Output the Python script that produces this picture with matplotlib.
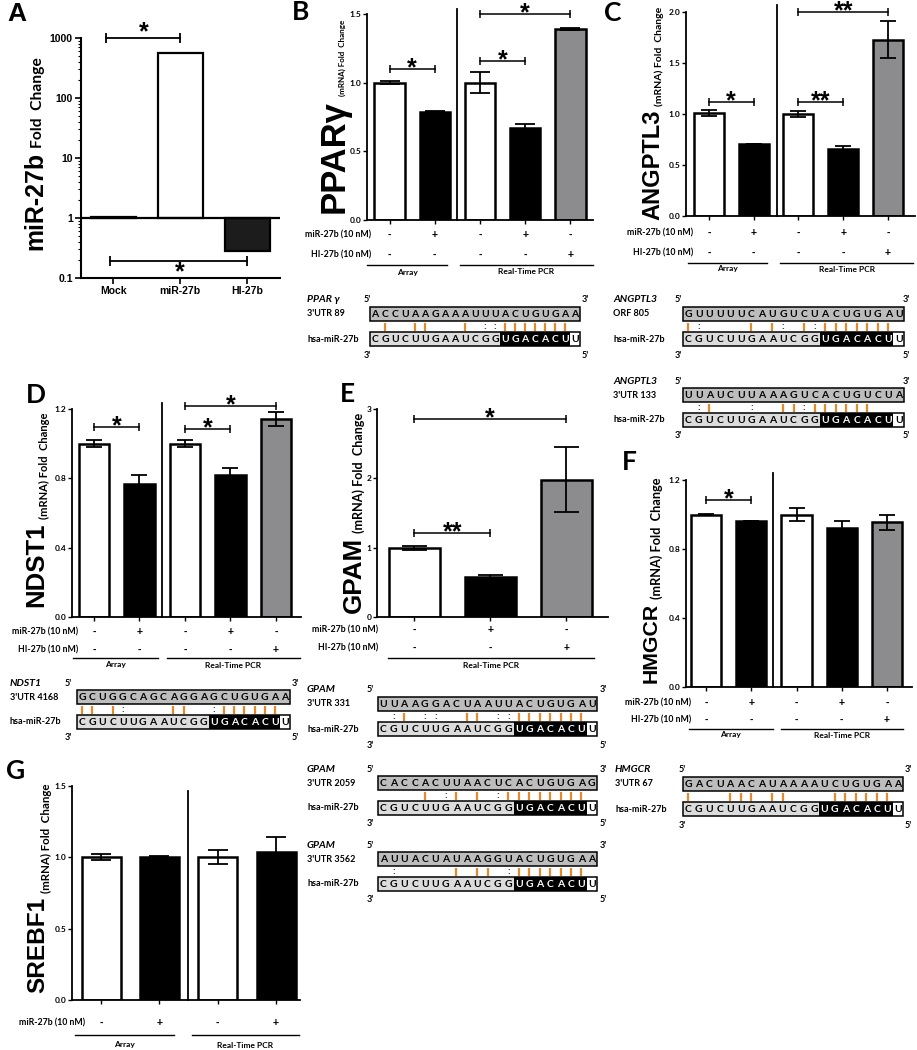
import matplotlib
matplotlib.use('Agg')
import matplotlib.pyplot as plt
from matplotlib.patches import Rectangle
from matplotlib.transforms import blended_transform_factory
import numpy as np

W, H = 917, 1050
fig = plt.figure(figsize=(W / 100, H / 100), dpi=100)
BIG = 'Liberation Sans'
SMALL = 'Lato'
WHITE, BLACK, GRAY = '#ffffff', '#000000', '#8c8c8e'
ORANGE = '#e58a2c'

# ---------------- data ----------------
a_groups = ['Mock', 'miR-27b', 'HI-27b']
a_values = [1.05, 560.0, 0.28]

b_values = [1.00, 0.79, 1.00, 0.67, 1.39]
b_errors = [0.01, 0.005, 0.075, 0.03, 0.005]
c_values = [1.01, 0.71, 1.00, 0.66, 1.73]
c_errors = [0.03, 0.0, 0.03, 0.025, 0.18]
d_values = [1.00, 0.77, 1.00, 0.82, 1.14]
d_errors = [0.02, 0.05, 0.02, 0.04, 0.04]
e_values = [1.00, 0.57, 1.98]
e_errors = [0.03, 0.03, 0.47]
f_values = [1.00, 0.96, 1.00, 0.92, 0.955]
f_errors = [0.005, 0.0, 0.035, 0.04, 0.045]
g_values = [1.00, 1.005, 1.00, 1.04]
g_errors = [0.02, 0.005, 0.05, 0.105]

mir_signs5 = ['-', '+', '-', '+', '-']
hi_signs5 = ['-', '-', '-', '-', '+']
mir_signs3 = ['-', '+', '-']
hi_signs3 = ['-', '-', '+']
mir_signs4 = ['-', '+', '-', '+']

mirna = 'CGUCUUGAAUCGGUGACACUU'
seq_pparg = 'ACCUAAGAAAUUUACUGUGAA'
pair_pparg = ' |  ||   | ::||||||| '
seq_ang_orf = 'GUUUUUCAUGUCUACUGUGAU'
pair_ang_orf = '|:    | |: |:||||||| '
seq_ang_utr = 'UUAUCUUAAAGUCACUGUCUA'
pair_ang_utr = ' :|   :  ||:||||||   '
seq_ndst1 = 'GCUGGCAGCAGGAGCUGUGAA'
pair_ndst1 = '|| |:    ||  :|||||| '
seq_gpam1 = 'UUAAGGACUAAUUACUGUGAU'
pair_gpam1 = ' :| ::  || ::||||||| '
seq_gpam2 = 'CACCACUUAACUCACUGUGAG'
pair_gpam2 = '    | :| | :|||||||| '
seq_gpam3 = 'AUUACUAUAAGGUACUGUGAA'
pair_gpam3 = ' :     | || :||||||| '
seq_hmgcr = 'GACUAACAUAAAAUCUGUGAA'
pair_hmgcr = '|   ||| ||    |||||| '

# ---------------- helpers ----------------
ov = fig.add_axes([0, 0, 1, 1], zorder=10)
ov.set_xlim(0, W)
ov.set_ylim(H, 0)
ov.axis('off')
renderer = fig.canvas.get_renderer()


def add_ax(x0, ytop, x1, ybot):
    ax = fig.add_axes([x0 / W, 1 - ybot / H, (x1 - x0) / W, (ybot - ytop) / H])
    ax.patch.set_alpha(0)
    ax._px = (x0, ytop, x1, ybot)
    return ax


def fit_vtext(x, y_from, y_to, s, family, weight='bold'):
    t = ov.text(x, y_from, s, fontsize=10, rotation=90, rotation_mode='anchor',
                ha='left', va='baseline', family=family, fontweight=weight)
    bb = t.get_window_extent(renderer)
    t.set_fontsize(10 * abs(y_from - y_to) / bb.height)
    return t


def ylabel2(x, big, small, b0, b1, s1, gap=4, xs=None):
    fit_vtext(x, b0, b1, big, BIG)
    fit_vtext(x if xs is None else xs, b1 - gap, s1, small, SMALL)


def setup(ax, n, xlim, ylim, yticks, ylabels):
    ax.set_xlim(*xlim)
    ax.set_ylim(*ylim)
    for s in ['top', 'right']:
        ax.spines[s].set_visible(False)
    for s in ['left', 'bottom']:
        ax.spines[s].set_linewidth(1.3)
    ax.set_xticks(range(n))
    ax.set_xticklabels([])
    ax.set_yticks(yticks)
    ax.set_yticklabels(ylabels)
    ax.tick_params(axis='both', direction='out', length=3, width=1)
    ax.tick_params(axis='y', labelsize=6, pad=1)
    for lab in ax.get_yticklabels():
        lab.set_fontweight('bold')
        lab.set_family(SMALL)


def bars(ax, values, errors, colors, capsize=5):
    x = np.arange(len(values))
    ax.bar(x, values, width=0.67, color=colors, edgecolor='k', linewidth=1.8, zorder=2)
    ax.errorbar(x, values, yerr=errors, fmt='none', ecolor='k', elinewidth=1.3,
                capsize=capsize, capthick=1.3, zorder=3)


def bracket(ax, x1, x2, y, label, size=18):
    ax.plot([x1, x2], [y, y], color='k', lw=1.1, marker='|', markersize=6,
            markeredgewidth=1.1, clip_on=False, zorder=4)
    ax.annotate(label, (0.5 * (x1 + x2), y), xytext=(0, -4.5), textcoords='offset points',
                ha='center', va='baseline', fontsize=size, fontweight='bold', family=BIG,
                annotation_clip=False)


def divider(ax, x, top):
    ax.plot([x, x], [ax.get_ylim()[0], top], color='k', lw=1.3, clip_on=False, zorder=4)


def rows(ax, labels, signs, dys, label_off, groups, line_dy, glabel_dy):
    x0, ytop, x1, ybot = ax._px
    hpx = ybot - ytop
    xl = ax.get_xlim()
    ppu = (x1 - x0) / (xl[1] - xl[0])
    tr = blended_transform_factory(ax.transData, ax.transAxes)
    for lab, sg, dy in zip(labels, signs, dys):
        yf = -dy / hpx
        ax.text(-label_off / ppu, yf, lab, transform=tr, ha='right', va='center',
                fontsize=6.3, fontweight='bold', family=SMALL, clip_on=False)
        for i, s in enumerate(sg):
            ax.text(i, yf, s, transform=tr, ha='center', va='center', fontsize=7.5,
                    fontweight='bold', family=BIG, clip_on=False)
    for name, ga, gb in groups:
        yf = -line_dy / hpx
        ax.plot([ga, gb], [yf, yf], transform=tr, color='k', lw=1.0, clip_on=False)
        ax.text(0.5 * (ga + gb), -glabel_dy / hpx, name, transform=tr, ha='center',
                va='center', fontsize=6, fontweight='bold', family=SMALL, clip_on=False)


def seq_block(gene, site, target, pairs, xl, xp, bx0, bx1, xrp, y0):
    n = len(target)
    cw = (bx1 - bx0) / n
    kw = dict(fontweight='bold', family=SMALL, va='center')
    ov.text(xl, y0, gene, fontsize=7.5, style='italic', ha='left', **kw)
    ov.text(xl, y0 + 14, site, fontsize=6.5, ha='left', **kw)
    ov.text(xl, y0 + 39, 'hsa-miR-27b', fontsize=6.5, ha='left', **kw)
    ov.text(xp, y0, "5'", fontsize=6.5, ha='center', **kw)
    ov.text(xrp, y0, "3'", fontsize=6.5, ha='center', **kw)
    ov.text(xp, y0 + 55, "3'", fontsize=6.5, ha='center', **kw)
    ov.text(xrp, y0 + 55, "5'", fontsize=6.5, ha='center', **kw)
    ty0, ty1 = y0 + 7, y0 + 21
    ov.add_patch(Rectangle((bx0, ty0), bx1 - bx0, ty1 - ty0, fc='#bdbdbd', ec='k', lw=1.1))
    for i, ch in enumerate(target):
        ov.text(bx0 + (i + 0.5) * cw, (ty0 + ty1) / 2 + 0.5, ch, fontsize=7.5, ha='center',
                color='k', **kw)
    yp = y0 + 26.5
    for i, p in enumerate(pairs):
        xc = bx0 + (i + 0.5) * cw
        if p == '|':
            ov.plot([xc, xc], [yp - 4, yp + 4], color=ORANGE, lw=1.6, solid_capstyle='butt')
        elif p == ':':
            ov.text(xc, yp, ':', fontsize=7.5, ha='center', color='#222222', **kw)
    my0, my1 = y0 + 32, y0 + 46
    ov.add_patch(Rectangle((bx0, my0), bx1 - bx0, my1 - my0, fc='#dcdcdc', ec='none'))
    ov.add_patch(Rectangle((bx0 + 13 * cw, my0), 7 * cw, my1 - my0, fc='k', ec='none'))
    ov.add_patch(Rectangle((bx0 + 20 * cw, my0), cw, my1 - my0, fc='white', ec='none'))
    ov.add_patch(Rectangle((bx0, my0), bx1 - bx0, my1 - my0, fc='none', ec='k', lw=1.1))
    for i, ch in enumerate(mirna):
        col = 'white' if 13 <= i <= 19 else 'k'
        ov.text(bx0 + (i + 0.5) * cw, (my0 + my1) / 2 + 0.5, ch, fontsize=7.5, ha='center',
                color=col, **kw)


def panel_letter(x, y, s, family=SMALL):
    ov.text(x, y, s, fontsize=19, fontweight='bold', family=family, ha='center', va='center')


# ---------------- Panel A ----------------
axA = add_ax(81, 38, 280, 278)
axA.set_yscale('log')
axA.set_ylim(0.1, 1000)
axA.set_xlim(-0.48, 2.49)
xA = np.arange(len(a_values))
axA.bar(xA, [v - 1 for v in a_values], bottom=1, width=0.67,
        color=[WHITE, WHITE, '#1c1c1c'], edgecolor='k', linewidth=1.6, zorder=2)
axA.axhline(1, color='k', lw=1.6, zorder=3)
for s in ['top', 'right']:
    axA.spines[s].set_visible(False)
for s in ['left', 'bottom']:
    axA.spines[s].set_linewidth(1.5)
axA.set_yticks([0.1, 1, 10, 100, 1000])
axA.set_yticklabels(['0.1', '1', '10', '100', '1000'])
axA.set_xticks(xA)
axA.set_xticklabels(a_groups)
axA.tick_params(axis='both', which='major', direction='out', length=4, width=1.2, labelsize=7.5, pad=2)
axA.tick_params(axis='y', which='minor', direction='out', length=2, width=0.8)
for lab in axA.get_yticklabels() + axA.get_xticklabels():
    lab.set_fontweight('bold')
    lab.set_family(BIG)
axA.plot([-0.1, 1.0], [1000, 1000], color='k', lw=1.3, marker='|', markersize=7,
         markeredgewidth=1.3, clip_on=False)
axA.annotate('*', (0.45, 1000), xytext=(0, -1), textcoords='offset points', ha='center',
             va='baseline', fontsize=18, fontweight='bold', family=BIG, annotation_clip=False)
axA.plot([-0.05, 2.0], [0.19, 0.19], color='k', lw=1.3, marker='|', markersize=7,
         markeredgewidth=1.3, clip_on=False)
axA.annotate('*', (1.0, 0.19), xytext=(0, -13), textcoords='offset points', ha='center',
             va='baseline', fontsize=18, fontweight='bold', family=BIG, annotation_clip=False)
ylabel2(42, 'miR-27b', 'Fold  Change', 250, 152, 57)
panel_letter(17, 14, 'A', BIG)

# ---------------- Panel B ----------------
axB = add_ax(367, 14, 593, 220)
setup(axB, 5, (-0.5, 4.5), (0, 1.5), [0, 0.5, 1.0, 1.5], ['0.0', '0.5', '1.0', '1.5'])
bars(axB, b_values, b_errors, [WHITE, BLACK, WHITE, BLACK, GRAY], capsize=7)
divider(axB, 1.5, 1.54)
bracket(axB, 0, 1, 1.10, '*')
bracket(axB, 2, 3, 1.16, '*')
bracket(axB, 2, 4, 1.50, '*')
rows(axB, ['miR-27b (10 nM)', 'HI-27b (10 nM)'], [mir_signs5, hi_signs5], [15, 35], 18,
     [('Array', -0.5, 1.27), ('Real-Time PCR', 1.56, 4.49)], 45, 52)
ylabel2(344, 'PPARγ', '(mRNA) Fold  Change', 213, 100, 20, xs=345)
panel_letter(301, 12, 'B')

# ---------------- Panel C ----------------
axC = add_ax(686, 12, 915, 216)
setup(axC, 5, (-0.51, 4.6), (0, 2.0), [0, 0.5, 1.0, 1.5, 2.0], ['0.0', '0.5', '1.0', '1.5', '2.0'])
bars(axC, c_values, c_errors, [WHITE, BLACK, WHITE, BLACK, GRAY], capsize=6)
divider(axC, 1.52, 2.07)
bracket(axC, 0, 1, 1.115, '*')
bracket(axC, 2, 3, 1.115, '**')
bracket(axC, 2, 4, 2.0, '**')
rows(axC, ['miR-27b (10 nM)', 'HI-27b (10 nM)'], [mir_signs5, hi_signs5], [17, 37], 16,
     [('Array', -0.47, 1.3), ('Real-Time PCR', 1.59, 4.56)], 47, 53)
ylabel2(659, 'ANGPTL3', '(mRNA) Fold  Change', 220, 110, 7, xs=662)
panel_letter(613, 13, 'C')

# ---------------- Panel D ----------------
axD = add_ax(72, 409, 301, 617)
setup(axD, 5, (-0.48, 4.55), (0, 1.2), [0, 0.4, 0.8, 1.2], ['0.0', '0.4', '0.8', '1.2'])
bars(axD, d_values, d_errors, [WHITE, BLACK, WHITE, BLACK, GRAY], capsize=6)
divider(axD, 1.49, 1.235)
bracket(axD, 0, 1, 1.096, '*')
bracket(axD, 2, 3, 1.085, '*')
bracket(axD, 2, 4, 1.217, '*')
rows(axD, ['miR-27b (10 nM)', 'HI-27b (10 nM)'], [mir_signs5, hi_signs5], [15, 33], 16,
     [('Array', -0.46, 1.41), ('Real-Time PCR', 1.6, 4.53)], 41, 48)
ylabel2(43, 'NDST1', '(mRNA) Fold  Change', 607, 523, 413, xs=48)
panel_letter(36, 395, 'D')

# ---------------- Panel E ----------------
axE = add_ax(377, 409, 608, 617)
setup(axE, 3, (-0.49, 2.55), (0, 3), [0, 1, 2, 3], ['0', '1', '2', '3'])
bars(axE, e_values, e_errors, [WHITE, BLACK, GRAY], capsize=9)
bracket(axE, 0, 1, 1.21, '**')
bracket(axE, 0, 2, 2.86, '*')
rows(axE, ['miR-27b (10 nM)', 'HI-27b (10 nM)'], [mir_signs3, hi_signs3], [13, 31], 36,
     [('Real-Time PCR', -0.34, 2.36)], 41, 48)
ylabel2(361, 'GPAM', '(mRNA) Fold  Change', 613, 537, 413, xs=363)
panel_letter(347, 394, 'E')

# ---------------- Panel F ----------------
axF = add_ax(686, 480, 912, 687)
setup(axF, 5, (-0.44, 4.55), (0, 1.2), [0, 0.4, 0.8, 1.2], ['0.0', '0.4', '0.8', '1.2'])
bars(axF, f_values, f_errors, [WHITE, BLACK, WHITE, BLACK, GRAY], capsize=6)
divider(axF, 1.48, 1.24)
bracket(axF, 0, 1, 1.084, '*')
rows(axF, ['miR-27b (10 nM)', 'HI-27b (10 nM)'], [mir_signs5, hi_signs5], [16, 33], 15,
     [('Array', -0.38, 1.48), ('Real-Time PCR', 1.66, 4.35)], 42, 48)
ylabel2(657, 'HMGCR', '(mRNA) Fold  Change', 683, 603, 477, xs=661)
panel_letter(629, 462, 'F')

# ---------------- Panel G ----------------
axG = add_ax(72, 786, 300, 1000)
setup(axG, 4, (-0.5, 3.41), (0, 1.5), [0, 0.5, 1.0, 1.5], ['0.0', '0.5', '1.0', '1.5'])
bars(axG, g_values, g_errors, [WHITE, BLACK, WHITE, BLACK], capsize=7)
divider(axG, 1.49, 1.465)
rows(axG, ['miR-27b (10 nM)'], [mir_signs4], [23], 16,
     [('Array', -0.45, 1.25), ('Real-Time PCR', 1.55, 3.4)], 35, 45)
ylabel2(44, 'SREBF1', '(mRNA) Fold  Change', 993, 897, 783, xs=50)
panel_letter(16, 771, 'G')

# ---------------- sequence alignments ----------------
seq_block('PPAR γ', "3'UTR 89", seq_pparg, pair_pparg, 307, 367, 370, 580, 585, 300)
seq_block('ANGPTL3', 'ORF 805', seq_ang_orf, pair_ang_orf, 613, 678, 683, 904, 906, 300)
seq_block('ANGPTL3', "3'UTR 133", seq_ang_utr, pair_ang_utr, 613, 678, 683, 904, 906, 381)
seq_block('NDST1', "3'UTR 4168", seq_ndst1, pair_ndst1, 10, 68, 77, 290, 295, 683)
seq_block('GPAM', "3'UTR 331", seq_gpam1, pair_gpam1, 307, 370, 378, 597, 603, 690)
seq_block('GPAM', "3'UTR 2059", seq_gpam2, pair_gpam2, 307, 370, 378, 597, 603, 769)
seq_block('GPAM', "3'UTR 3562", seq_gpam3, pair_gpam3, 307, 370, 378, 597, 603, 845)
seq_block('HMGCR', "3'UTR 67", seq_hmgcr, pair_hmgcr, 615, 682, 683, 903, 908, 770)

fig.savefig('out.png', dpi=100)
